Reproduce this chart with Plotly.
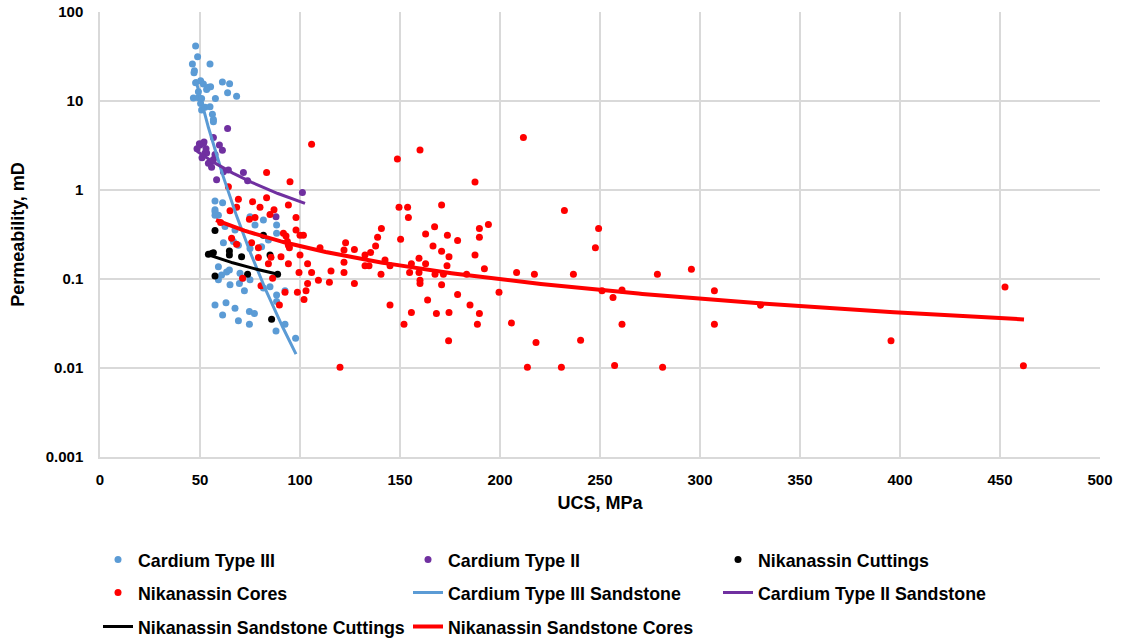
import numpy as np
import plotly.graph_objects as go

# --- Cardium Type III (UCS MPa, permeability mD)
c3_ucs = [47.8, 48.8, 46.2, 47.2, 55.0, 47.0, 47.8, 50.3, 51.7, 54.2, 55.3, 61.2, 64.8, 63.8,
          68.3, 46.7, 49.2, 50.8, 57.7, 53.3, 49.2, 52.5, 55.0, 50.8, 56.2, 56.7, 56.7, 50.3,
          57.5, 61.3, 57.5, 57.5, 59.2, 62.5, 67.5, 75.0, 81.7, 77.5, 88.3, 88.3, 84.2, 61.7,
          66.7, 69.2, 75.0, 80.8, 59.2, 63.3, 64.7, 60.8, 70.0, 71.3, 75.0, 65.0, 69.7, 72.2,
          85.0, 81.7, 92.5, 88.3, 88.3, 57.5, 63.0, 67.5, 61.3, 74.7, 77.2, 69.2, 74.7, 92.5,
          88.0, 97.8, 59.2, 57.5]
c3_perm = [41.5, 31.5, 26.0, 21.9, 26.0, 20.8, 16.0, 16.9, 15.5, 14.3, 14.5, 16.3, 15.6, 12.4,
           11.3, 10.8, 10.9, 10.7, 10.7, 13.5, 12.7, 8.5, 8.6, 7.9, 7.1, 6.2, 5.85, 9.4,
           0.75, 0.72, 0.60, 0.52, 0.52, 0.39, 0.355, 0.50, 0.46, 0.405, 0.405, 0.326, 0.274, 0.256,
           0.263, 0.24, 0.22, 0.23, 0.137, 0.12, 0.126, 0.111, 0.116, 0.102, 0.098, 0.086, 0.089, 0.074,
           0.082, 0.079, 0.074, 0.066, 0.056, 0.051, 0.054, 0.047, 0.0395, 0.043, 0.041, 0.034, 0.031, 0.031,
           0.026, 0.0216, 0.098, 0.57]

# --- Cardium Type II
c2_ucs = [63.8, 56.7, 49.7, 52.0, 59.7, 50.0, 52.5, 54.2, 58.3, 51.7, 61.2, 53.3, 55.0, 56.7,
          64.2, 71.7, 73.8, 101.2, 88.0, 61.7, 48.5, 51.0, 53.0, 57.5, 55.8]
c2_perm = [4.9, 3.9, 3.3, 3.46, 3.2, 3.2, 2.6, 2.0, 1.3, 3.35, 2.8, 2.6, 2.0, 2.2,
           1.68, 1.57, 1.27, 0.94, 0.5, 1.6, 2.9, 2.3, 2.9, 2.5, 1.8]

# --- Nikanassin cuttings
nc_ucs = [57.5, 54.2, 56.7, 64.7, 64.7, 70.8, 85.0, 57.5, 73.8, 88.8, 85.8, 81.7, 55.8]
nc_perm = [0.35, 0.19, 0.197, 0.206, 0.186, 0.178, 0.186, 0.108, 0.113, 0.113, 0.0353, 0.31, 0.194]

# --- Nikanassin cores
nk_ucs = [105.8, 83.3, 95.0, 64.2, 69.2, 76.3, 83.3, 94.2, 80.0, 68.3, 65.0, 87.0, 85.0, 77.5,
          74.7, 98.0, 60.3, 98.0, 100.0, 101.7, 91.7, 93.0, 93.7, 122.8, 122.0, 65.8, 68.3, 75.8,
          79.2, 94.2, 94.7, 100.0, 110.0, 79.2, 85.5, 90.5, 84.2, 94.2, 103.8, 99.5, 105.8, 109.2,
          115.5, 114.7, 122.0, 103.8, 86.3, 80.5, 71.3, 92.5, 98.7, 103.0, 102.0, 89.7, 120.0,
          211.7, 160.0, 148.7, 187.5, 149.5, 153.8, 154.2, 170.8, 167.3, 173.7, 178.8, 162.8, 194.2,
          189.7, 189.7, 140.7, 138.8, 137.8, 150.3, 166.5, 170.8, 174.5, 187.5, 192.2, 127.2, 122.0,
          132.5, 135.3, 132.5, 134.5, 142.5, 145.0, 140.5, 127.2, 159.5, 162.8, 155.7, 154.8, 159.5,
          160.0, 160.0, 167.5, 171.7, 173.5, 183.3, 170.8, 178.8, 199.5, 145.0, 163.8, 155.7, 152.0,
          168.2, 174.5, 185.0, 189.7, 188.7, 205.7, 174.3, 218.0, 213.7, 208.3, 217.2,
          232.2, 249.3, 247.7, 236.7, 278.7, 295.7, 251.0, 261.0, 256.5, 307.2, 261.0, 307.2,
          240.3, 230.7, 257.3, 281.3, 330.3, 395.5, 452.5, 461.7]
nk_perm = [3.26, 1.57, 1.24, 1.09, 0.786, 0.74, 0.82, 0.68, 0.64, 0.64, 0.585, 0.60, 0.53, 0.49,
           0.47, 0.49, 0.43, 0.355, 0.31, 0.31, 0.326, 0.305, 0.263, 0.256, 0.212, 0.287, 0.245, 0.256,
           0.225, 0.24, 0.225, 0.186, 0.225, 0.174, 0.175, 0.178, 0.148, 0.148, 0.148, 0.118, 0.118, 0.097,
           0.123, 0.092, 0.118, 0.089, 0.102, 0.084, 0.102, 0.071, 0.071, 0.074, 0.059, 0.051, 0.0102,
           3.9, 2.81, 2.23, 1.23, 0.64, 0.64, 0.49, 0.68, 0.387, 0.31, 0.27, 0.32, 0.41,
           0.37, 0.294, 0.37, 0.294, 0.235, 0.28, 0.235, 0.205, 0.178, 0.186, 0.13, 0.215, 0.154,
           0.186, 0.198, 0.141, 0.141, 0.163, 0.141, 0.113, 0.089, 0.171, 0.148, 0.148, 0.118, 0.118,
           0.097, 0.089, 0.113, 0.113, 0.141, 0.113, 0.086, 0.067, 0.071, 0.051, 0.058, 0.042, 0.031,
           0.041, 0.042, 0.051, 0.041, 0.031, 0.032, 0.0203, 0.0194, 0.0102, 0.118, 0.113,
           0.59, 0.37, 0.225, 0.113, 0.113, 0.129, 0.074, 0.075, 0.062, 0.074, 0.031, 0.031,
           0.0205, 0.0102, 0.0107, 0.0102, 0.0507, 0.0203, 0.0814, 0.0106]

# Power-law trend lines k = k0 * (UCS / ucs0) ** b over [ucs_min, ucs_max]
trend_names = ["Cardium Type III Sandstone", "Cardium Type II Sandstone",
               "Nikanassin Sandstone Cuttings", "Nikanassin Sandstone Cores"]
trend_ucs0 = [48.3, 55.0, 53.3, 60.0]
trend_k0 = [15.8, 2.17, 0.19, 0.44]
trend_exp = [-9.9, -1.8, -1.01, -1.238]
trend_min = [47.8, 48.5, 53.0, 58.0]
trend_max = [98.0, 102.5, 89.0, 462.0]

BLUE = "#5b9bd5"
PURPLE = "#7030a0"
BLACK = "#000000"
RED = "#ff0000"
trend_colors = [BLUE, PURPLE, BLACK, RED]
trend_widths = [3, 3, 3, 4]
trend_legends = ["legend2", "legend2", "legend3", "legend3"]

FONT = "Liberation Sans, Arial, sans-serif"
MS = 7

fig = go.Figure()

scatter_sets = [
    ("Cardium Type III", c3_ucs, c3_perm, BLUE, "legend"),
    ("Cardium Type II", c2_ucs, c2_perm, PURPLE, "legend"),
    ("Nikanassin Cuttings", nc_ucs, nc_perm, BLACK, "legend"),
]
for name, xs, ys, col, lg in scatter_sets:
    fig.add_trace(go.Scatter(x=xs, y=ys, mode="markers", name=name, legend=lg,
                             marker=dict(color=col, size=MS, line=dict(width=0))))

fig.add_trace(go.Scatter(x=nk_ucs, y=nk_perm, mode="markers", name="Nikanassin Cores",
                         legend="legend2", marker=dict(color=RED, size=MS, line=dict(width=0))))

for i, name in enumerate(trend_names):
    xs = np.linspace(trend_min[i], trend_max[i], 200)
    ys = trend_k0[i] * (xs / trend_ucs0[i]) ** trend_exp[i]
    fig.add_trace(go.Scatter(x=xs, y=ys, mode="lines", name=name, legend=trend_legends[i],
                             line=dict(color=trend_colors[i], width=trend_widths[i])))

grid = "#d9d9d9"
fig.update_layout(
    width=1125, height=641,
    margin=dict(l=100, r=25, t=12, b=184, autoexpand=False),
    paper_bgcolor="white", plot_bgcolor="white",
    font=dict(family=FONT, color="#000000"),
    xaxis=dict(range=[0, 500], dtick=50, tick0=0, showgrid=True, gridcolor=grid, gridwidth=1.5,
               showline=True, linecolor=grid, linewidth=1.5, zeroline=False, ticks="",
               ticklabelstandoff=8,
               tickfont=dict(size=15, family=FONT, weight="bold"),
               title=dict(text="UCS, MPa", font=dict(size=18, family=FONT, weight="bold"), standoff=10)),
    yaxis=dict(type="log", range=[-3, 2], showgrid=True, gridcolor=grid, gridwidth=1.5,
               showline=True, linecolor=grid, linewidth=1.5, zeroline=False, ticks="",
               tickvals=[0.001, 0.01, 0.1, 1, 10, 100],
               ticktext=["0.001", "0.01", "0.1", "1", "10", "100"],
               ticklabelstandoff=12,
               tickfont=dict(size=15, family=FONT, weight="bold"),
               title=dict(text="Permeability, mD", font=dict(size=18, family=FONT, weight="bold"), standoff=16)),
    showlegend=True,
)

legend_common = dict(orientation="h", xref="paper", yref="paper", xanchor="left", yanchor="middle",
                     entrywidth=265, entrywidthmode="pixels", bgcolor="rgba(0,0,0,0)",
                     font=dict(size=17.8, family=FONT, weight="bold", color="#000000"),
                     itemwidth=30, traceorder="normal")
fig.update_layout(
    legend=dict(x=-0.002, y=-0.2315, **legend_common),
    legend2=dict(x=-0.002, y=-0.3056, **legend_common),
    legend3=dict(x=-0.002, y=-0.382, **legend_common),
)

fig.write_html("out.html")
